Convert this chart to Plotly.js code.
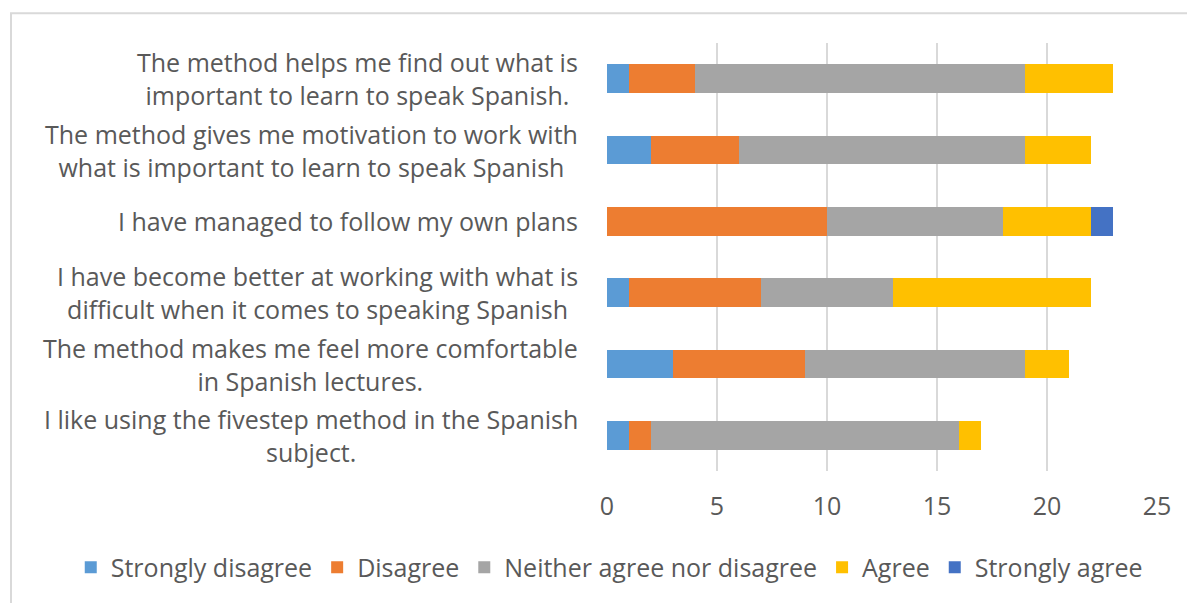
<!DOCTYPE html>
<html>
<head>
<meta charset="utf-8">
<script src="https://cdn.plot.ly/plotly-3.0.1.min.js"></script>
<style>
  html, body { margin: 0; padding: 0; background: #fff; }
  #chart { width: 1187px; height: 603px; }
</style>
</head>
<body>
<div id="chart"></div>
<script>
// Categories, top to bottom
const categories = [
  "The method helps me find out what is<br>important to learn to speak Spanish.",
  "The method gives me motivation to work with<br>what is important to learn to speak Spanish",
  "I have managed to follow my own plans",
  "I have become better at working with what is<br>difficult when it comes to speaking Spanish",
  "The method makes me feel more comfortable<br>in Spanish lectures.",
  "I like using the fivestep method in the Spanish<br>subject."
];
const catKeys = ["c1", "c2", "c3", "c4", "c5", "c6"];

const seriesNames = ["Strongly disagree", "Disagree", "Neither agree nor disagree", "Agree", "Strongly agree"];
const stronglyDisagree = [1, 2, 0, 1, 3, 1];
const disagree         = [3, 4, 10, 6, 6, 1];
const neither          = [15, 13, 8, 6, 10, 14];
const agree            = [4, 3, 4, 9, 2, 1];
const stronglyAgree    = [0, 0, 1, 0, 0, 0];
const seriesColors = ["#5B9BD5", "#ED7D31", "#A5A5A5", "#FFC000", "#4472C4"];

const xTicks = [0, 5, 10, 15, 20, 25];

const FONT = "Open Sans, Noto Sans, sans-serif";
const TXT = "#595959";
const FS = 25;

const allValues = [stronglyDisagree, disagree, neither, agree, stronglyAgree];
const traces = allValues.map((vals, i) => ({
  type: "bar",
  orientation: "h",
  name: seriesNames[i],
  y: catKeys,
  x: vals,
  marker: { color: seriesColors[i], line: { width: 0 } },
  hoverinfo: "x+name"
}));

const annotations = catKeys.map((k, i) => ({
  xref: "paper", yref: "y",
  x: -0.049, y: k,
  xanchor: "right", yanchor: "middle",
  align: "center",
  text: categories[i],
  showarrow: false,
  font: { family: FONT, size: FS, color: TXT }
}));

const shapes = [{
  type: "rect", xref: "paper", yref: "paper",
  x0: -1.0836, x1: 1.2, y0: -0.4, y1: 1.0698,
  line: { color: "#d9d9d9", width: 2 },
  fillcolor: "rgba(0,0,0,0)",
  layer: "below"
}];

const layout = {
  width: 1187, height: 603,
  margin: { l: 607, r: 30, t: 43, b: 130 },
  paper_bgcolor: "#ffffff",
  plot_bgcolor: "#ffffff",
  barmode: "stack",
  bargap: 0.6,
  showlegend: true,
  legend: {
    orientation: "h",
    x: -0.975, y: -0.2256,
    xanchor: "left", yanchor: "middle",
    font: { family: FONT, size: FS, color: TXT },
    traceorder: "normal",
    itemclick: false,
    itemwidth: 30
  },
  xaxis: {
    range: [0, 25],
    tickvals: xTicks,
    ticktext: xTicks.map(String),
    showgrid: true,
    gridcolor: "#d9d9d9",
    gridwidth: 2,
    zeroline: false,
    showline: false,
    ticks: "",
    ticklabelstandoff: 18,
    tickfont: { family: FONT, size: FS, color: TXT },
    fixedrange: true
  },
  yaxis: {
    type: "category",
    categoryorder: "array",
    categoryarray: catKeys,
    autorange: "reversed",
    showticklabels: false,
    showgrid: false,
    zeroline: false,
    showline: false,
    ticks: "",
    fixedrange: true
  },
  annotations: annotations,
  shapes: shapes,
  font: { family: FONT, color: TXT }
};

Plotly.newPlot("chart", traces, layout, { displayModeBar: false });
</script>
</body>
</html>
